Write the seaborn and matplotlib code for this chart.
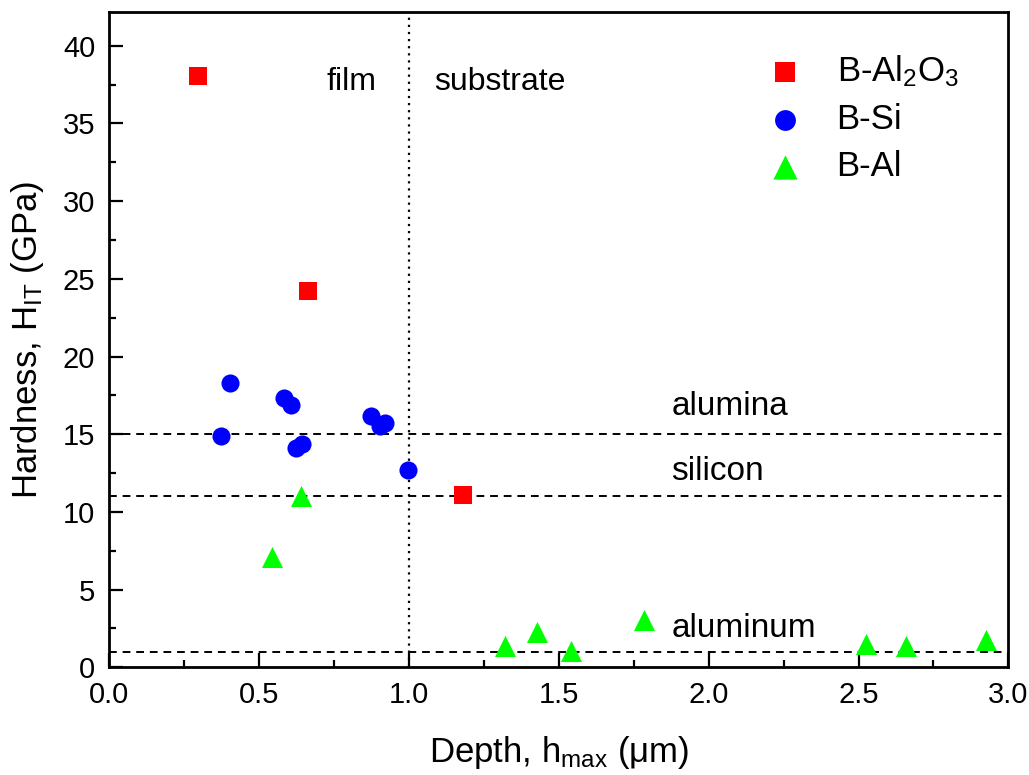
"""
Hardness vs indentation depth for boron films on three substrates.
"""

import seaborn as sns
import matplotlib.pyplot as plt
import pandas as pd

# Data
al2o3_depth = [0.297, 0.664, 1.18]
al2o3_hard = [38.06, 24.2, 11.1]

si_depth = [0.403, 0.375, 0.583, 0.608, 0.623, 0.645, 0.875, 0.905, 0.92, 0.997]
si_hard = [18.3, 14.9, 17.3, 16.9, 14.1, 14.4, 16.2, 15.5, 15.7, 12.7]

al_depth = [0.542, 0.64, 1.32, 1.427, 1.54, 1.785, 2.524, 2.66, 2.924]
al_hard = [7.1, 11.0, 1.4, 2.28, 1.07, 3.05, 1.5, 1.4, 1.73]

samples = ["B-Al2O3", "B-Si", "B-Al"]
legend_labels = ["B-Al$_2$O$_3$", "B-Si", "B-Al"]

# bulk hardness reference lines
ref_names = ["alumina", "silicon", "aluminum"]
ref_values = [15.0, 11.0, 1.0]
ref_text_y = [16.8, 12.6, 2.5]

df = pd.DataFrame({
    "depth": al2o3_depth + si_depth + al_depth,
    "hardness": al2o3_hard + si_hard + al_hard,
    "sample": ["B-Al2O3"] * len(al2o3_depth) + ["B-Si"] * len(si_depth)
              + ["B-Al"] * len(al_depth),
})

sns.set_style("ticks")
plt.rcParams["font.family"] = ["Liberation Sans", "DejaVu Sans"]
plt.rcParams["mathtext.fontset"] = "custom"
plt.rcParams["mathtext.rm"] = "Liberation Sans"
plt.rcParams["mathtext.default"] = "regular"
plt.rcParams["text.color"] = "black"
plt.rcParams["axes.labelcolor"] = "black"
plt.rcParams["xtick.color"] = "black"
plt.rcParams["ytick.color"] = "black"
plt.rcParams["axes.edgecolor"] = "black"

fig = plt.figure(figsize=(10.29, 7.75), dpi=100)
ax = fig.add_axes([0.106, 0.139, 0.874, 0.846])

palette = {"B-Al2O3": "#ff0000", "B-Si": "#0000ff", "B-Al": "#00ff00"}
markers = {"B-Al2O3": "s", "B-Si": "o", "B-Al": "^"}
sizes = {"B-Al2O3": 150, "B-Si": 170, "B-Al": 230}

for name in samples:
    sub = df[df["sample"] == name]
    sns.scatterplot(data=sub, x="depth", y="hardness", color=palette[name],
                    marker=markers[name], s=sizes[name], linewidth=0,
                    label=name, ax=ax, zorder=3)

# reference lines
for v in ref_values:
    ax.axhline(v, color="black", linestyle=(0, (4, 3)), linewidth=1.4, zorder=2)
ax.axvline(1.0, color="black", linestyle=(0, (1, 2.2)), linewidth=1.6, zorder=2)

for name, ty in zip(ref_names, ref_text_y):
    ax.text(1.875, ty, name, fontsize=24, ha="left", va="center")
ax.text(0.81, 37.7, "film", fontsize=23, ha="center", va="center")
ax.text(1.086, 37.7, "substrate", fontsize=23, ha="left", va="center")

ax.set_xlim(0, 3.0)
ax.set_ylim(0, 42.2)
ax.set_xticks([0.0, 0.5, 1.0, 1.5, 2.0, 2.5, 3.0])
ax.set_xticklabels(["0.0", "0.5", "1.0", "1.5", "2.0", "2.5", "3.0"])
ax.set_xticks([0.25, 0.75, 1.25, 1.75, 2.25, 2.75], minor=True)
ax.set_yticks([0, 5, 10, 15, 20, 25, 30, 35, 40])
ax.set_yticks([2.5, 7.5, 12.5, 17.5, 22.5, 27.5, 32.5, 37.5], minor=True)
ax.tick_params(which="major", direction="in", length=10, width=1.6,
               labelsize=21, pad=10)
ax.tick_params(which="minor", direction="in", length=5, width=1.6)
for sp in ax.spines.values():
    sp.set_linewidth(2.0)
    sp.set_visible(True)

ax.set_xlabel("Depth, h$_{max}$ (\u03bcm)", fontsize=25, labelpad=18)
ax.set_ylabel("Hardness, H$_{IT}$ (GPa)", fontsize=25, labelpad=12)

handles, _ = ax.get_legend_handles_labels()
ax.legend(handles, legend_labels, loc="upper right", frameon=False,
          fontsize=25, bbox_to_anchor=(0.968, 0.968), handletextpad=0.5,
          labelspacing=0.4, borderaxespad=0.2, markerscale=1.15)

plt.savefig("out.png", dpi=100)
